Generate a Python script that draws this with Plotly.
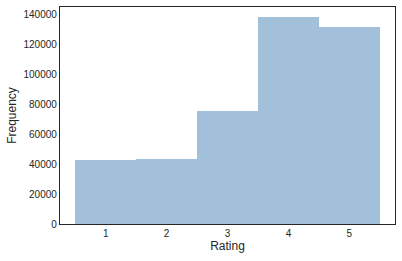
import plotly.graph_objects as go

ratings = [1, 2, 3, 4, 5]
frequency = [42900, 43600, 75900, 138900, 131900]
y_ticks = [0, 20000, 40000, 60000, 80000, 100000, 120000, 140000]

fig = go.Figure(go.Bar(
    x=ratings, y=frequency, width=1,
    marker=dict(color="rgba(70,130,180,0.5)", line=dict(width=0)),
))

fig.update_layout(
    width=402, height=261,
    margin=dict(l=60, r=7, t=7, b=37),
    paper_bgcolor="white", plot_bgcolor="white",
    font=dict(family="Liberation Sans, Arial, sans-serif", color="#262626"),
    showlegend=False, bargap=0,
)
fig.update_xaxes(
    range=[0.25, 5.75], tickvals=ratings, ticktext=[str(r) for r in ratings],
    showgrid=False, zeroline=False, ticks="", tickfont=dict(size=10),
    showline=True, linecolor="#262626", linewidth=1.25, mirror=True,
    title=dict(text="Rating", font=dict(size=12), standoff=3),
)
fig.update_yaxes(
    range=[0, 145300], tickvals=y_ticks, ticktext=[str(v) for v in y_ticks],
    showgrid=False, zeroline=False, ticks="", tickfont=dict(size=10),
    showline=True, linecolor="#262626", linewidth=1.25, mirror=True,
    title=dict(text="Frequency", font=dict(size=12), standoff=4),
)

fig.write_html("out.html")
